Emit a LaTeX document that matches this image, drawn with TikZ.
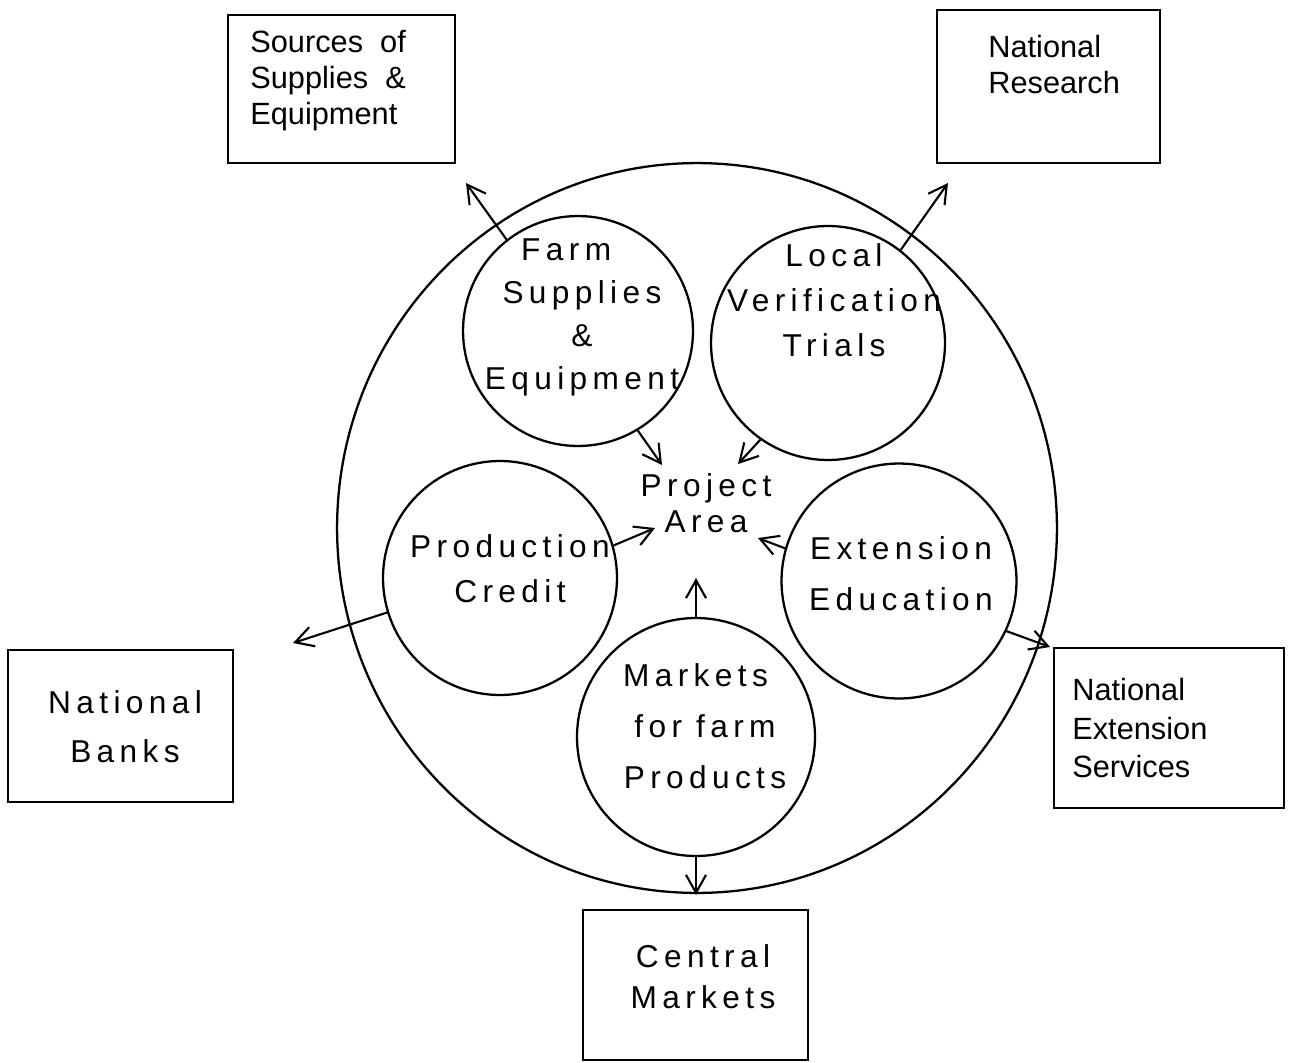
\documentclass[tikz,border=0pt]{standalone}
\usepackage{fontspec}
\setmainfont{Liberation Sans}
\newfontfamily\spaced[LetterSpace=17]{Liberation Sans}
\usetikzlibrary{shapes.geometric,arrows.meta}

\tikzset{
  ring/.style={circle,draw,line width=1.3pt,inner sep=0pt},
  box/.style={rectangle,draw,line width=1.6pt,inner sep=0pt},
  ctext/.style={font=\spaced\fontsize{18}{#1}\selectfont,align=center,inner sep=0pt},
  btext/.style={font=\fontsize{17.5}{#1}\selectfont,align=left,inner sep=0pt,anchor=west},
  link/.style={line width=1.2pt,-{Straight Barb[length=3.6mm,width=4mm,line width=1.2pt]}}
}

\begin{document}
\begin{tikzpicture}[x=0.02cm,y=-0.02cm]
                          \useasboundingbox (0,0) rectangle (1291,1062);

                          % project area
                          \node[ellipse,draw,line width=1.3pt,minimum width=14.4cm,minimum height=14.6cm] (area) at (697,528) {};

                          % inner circles
                          \node[ring,minimum size=4.6cm] (farm) at (578,331) {};
                          \node[ring,minimum size=4.68cm] (local) at (828,343) {};
                          \node[ring,minimum size=4.68cm] (credit) at (500,578) {};
                          \node[ring,minimum size=4.7cm] (exted) at (899,581) {};
                          \node[ring,minimum size=4.76cm] (markets) at (696,737) {};

                          \node[ctext=24.5pt] (farmText) at (582,317) {Farm\hspace*{1em}\\Supplies\\\&\\Equipment};
                          \node[ctext=25.6pt] (localText) at (834,300) {Local\\Verification\\Trials};
                          \node[ctext=25.6pt] (creditText) at (510,569) {Production\\Credit};
                          \node[ctext=29pt] (extedText) at (901,574) {Extension\\Education};
                          \node[ctext=29pt] (marketsText) at (705,726) {Markets\hspace*{.6em}\\for farm\hspace*{1.2em}\\Products};
                          \node[ctext=20.5pt] (projText) at (706,503) {Project\\Area};

                          % outside boxes
                          \node[box,minimum width=4.54cm,minimum height=2.96cm] (src) at (341.5,89) {};
                          \node[box,minimum width=4.46cm,minimum height=3.06cm] (res) at (1048.5,86.5) {};
                          \node[box,minimum width=4.5cm,minimum height=3.04cm] (banks) at (120.5,726) {};
                          \node[box,minimum width=4.6cm,minimum height=3.2cm] (serv) at (1169,728) {};
                          \node[box,minimum width=4.5cm,minimum height=3cm] (central) at (695.5,985) {};

                          \node[btext=20.5pt] (srcText) at (250,81) {Sources\ \ of\\Supplies \ \&\\Equipment};
                          \node[btext=21pt] (resText) at (988,64.5) {National\\Research};
                          \node[btext=22pt] (servText) at (1072,728) {National\\Extension\\Services};
                          \node[ctext=28pt] (banksText) at (125,727) {National\\Banks};
                          \node[ctext=23.5pt] (centralText) at (703,977) {Central\\Markets};

                          % arrow tips
                          \coordinate (srcTip) at (466,183);
                          \coordinate (resTip) at (948,183);
                          \coordinate (banksTip) at (293,643);
                          \coordinate (servTip) at (1050,647);
                          \coordinate (centralTip) at (696,895);
                          \coordinate (projA) at (662,465);
                          \coordinate (projB) at (738,464);
                          \coordinate (projC) at (655,528);
                          \coordinate (projD) at (758,538);
                          \coordinate (projE) at (696,578);

                          % outward links
                          \draw[link] (farm.128) -- (srcTip);
                          \draw[link] (local.52) -- (resTip);
                          \draw[link] (credit.197) -- (banksTip);
                          \draw[link] (exted.-25) -- (servTip);
                          \draw[link] (markets.south) -- (centralTip);

                          % inward links
                          \draw[link] (farm.-59) -- (projA);
                          \draw[link] (local.235) -- (projB);
                          \draw[link] (credit.16) -- (projC);
                          \draw[link] (exted.164) -- (projD);
                          \draw[link] (markets.north) -- (projE);
\end{tikzpicture}
\end{document}
